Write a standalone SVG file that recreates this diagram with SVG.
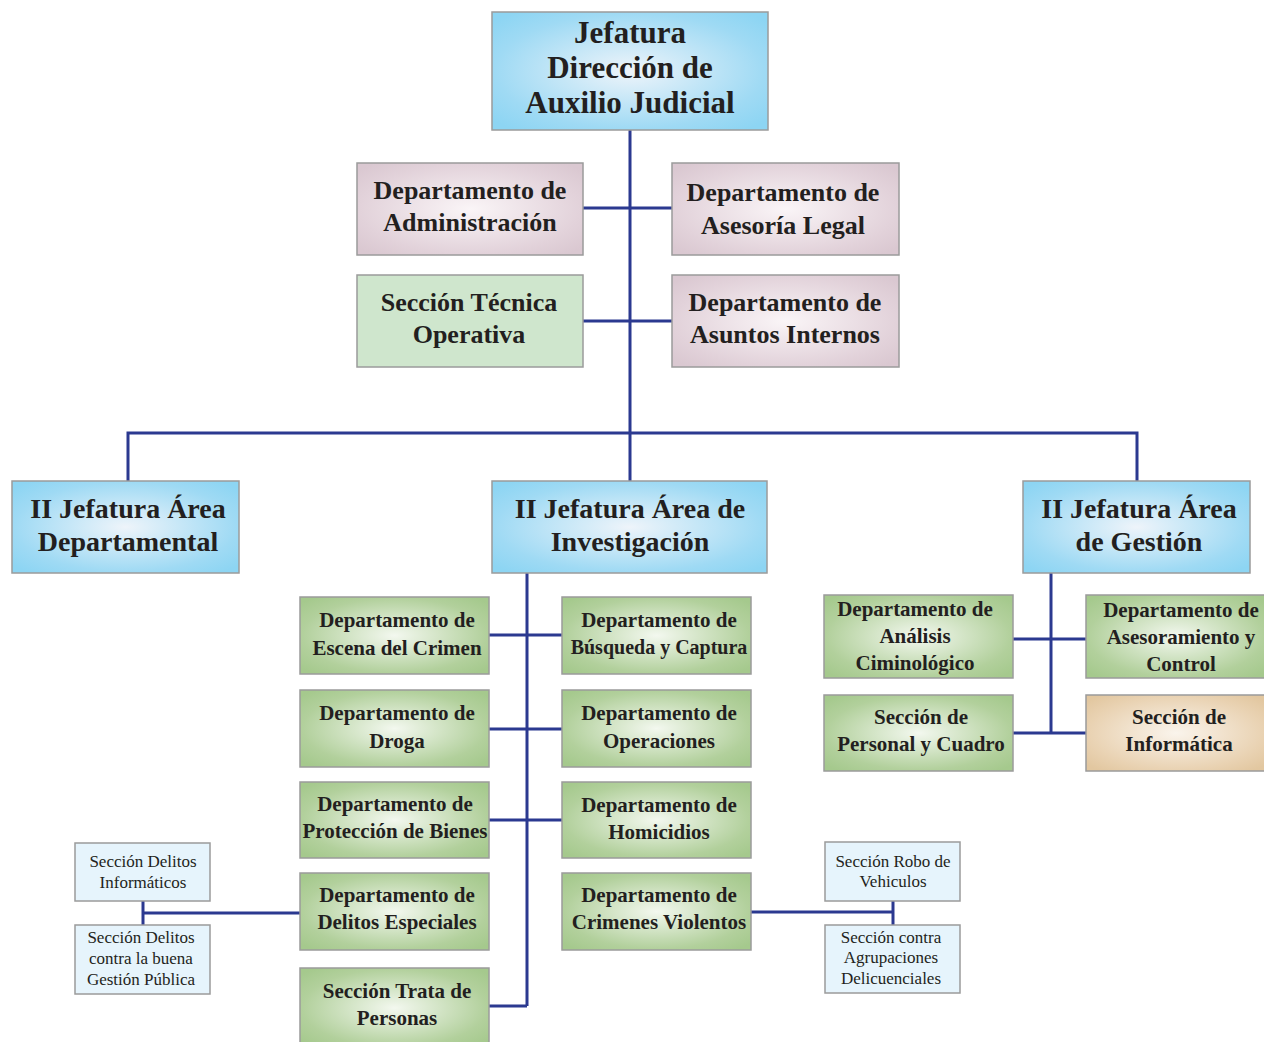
<svg xmlns="http://www.w3.org/2000/svg" width="1264" height="1042" viewBox="0 0 1264 1042">
<defs>
<radialGradient id="gBlue" cx="50%" cy="50%" r="65%"><stop offset="0" stop-color="#eef4fa"/><stop offset="0.75" stop-color="#9fdaf4"/><stop offset="1" stop-color="#8dd5f3"/></radialGradient>
<radialGradient id="gMauve" cx="50%" cy="50%" r="65%"><stop offset="0" stop-color="#faf5f7"/><stop offset="0.75" stop-color="#e2d2da"/><stop offset="1" stop-color="#dac8d1"/></radialGradient>
<radialGradient id="gGreen" cx="50%" cy="50%" r="65%"><stop offset="0" stop-color="#f3f8ef"/><stop offset="0.75" stop-color="#b2d09c"/><stop offset="1" stop-color="#a5c98d"/></radialGradient>
<radialGradient id="gTan" cx="50%" cy="50%" r="65%"><stop offset="0" stop-color="#faf4ec"/><stop offset="0.75" stop-color="#e9d2b2"/><stop offset="1" stop-color="#e2c7a0"/></radialGradient>
<style>
.box{stroke:#9b9b9b;stroke-width:1.5}
.blue{fill:url(#gBlue)}
.mauve{fill:url(#gMauve)}
.green{fill:url(#gGreen)}
.lgreen{fill:#cfe6cd}
.tan{fill:url(#gTan)}
.lblue{fill:#e6f4fc}
text{font-family:"Liberation Serif","DejaVu Serif",serif;fill:#231f20;text-anchor:middle}
.t1{font-size:31px;font-weight:bold}
.t2{font-size:28px;font-weight:bold}
.t3{font-size:26px;font-weight:bold}
.t4{font-size:21px;font-weight:bold}
.t4s{font-size:20px;font-weight:bold}
.t5{font-size:17px}
.conn line,.conn polyline{stroke:#2b3990;stroke-width:3;fill:none}
</style>
</defs>
<g class="conn" id="connectors">
<line x1="630" y1="130" x2="630" y2="481"/>
<line x1="583" y1="208" x2="672" y2="208"/>
<line x1="583" y1="321" x2="672" y2="321"/>
<polyline points="128,481 128,433 1137,433 1137,481"/>
<line x1="527" y1="573" x2="527" y2="1006"/>
<line x1="489" y1="635" x2="562" y2="635"/>
<line x1="489" y1="729" x2="562" y2="729"/>
<line x1="489" y1="820" x2="562" y2="820"/>
<line x1="489" y1="1006" x2="527" y2="1006"/>
<line x1="143" y1="913" x2="300" y2="913"/>
<line x1="143" y1="901" x2="143" y2="925"/>
<line x1="751" y1="912" x2="893" y2="912"/>
<line x1="893" y1="901" x2="893" y2="925"/>
<line x1="1051" y1="573" x2="1051" y2="733"/>
<line x1="1013" y1="639" x2="1086" y2="639"/>
<line x1="1013" y1="733" x2="1086" y2="733"/>
</g>
<g id="jefatura"><rect class="box blue" x="492" y="12" width="276" height="118"/><text class="t1" x="630" y="43">Jefatura</text><text class="t1" x="630" y="78">Dirección de</text><text class="t1" x="630" y="113">Auxilio Judicial</text></g>
<g id="administracion"><rect class="box mauve" x="357" y="163" width="226" height="92"/><text class="t3" x="470" y="199">Departamento de</text><text class="t3" x="470" y="231">Administración</text></g>
<g id="asesoria"><rect class="box mauve" x="672" y="163" width="227" height="92"/><text class="t3" x="783" y="201">Departamento de</text><text class="t3" x="783" y="234">Asesoría Legal</text></g>
<g id="tecnica"><rect class="box lgreen" x="357" y="275" width="226" height="92"/><text class="t3" x="469" y="311">Sección Técnica</text><text class="t3" x="469" y="343">Operativa</text></g>
<g id="internos"><rect class="box mauve" x="672" y="275" width="227" height="92"/><text class="t3" x="785" y="311">Departamento de</text><text class="t3" x="785" y="343">Asuntos Internos</text></g>
<g id="departamental"><rect class="box blue" x="12" y="481" width="227" height="92"/><text class="t2" x="128" y="518">II Jefatura Área</text><text class="t2" x="128" y="551">Departamental</text></g>
<g id="investigacion"><rect class="box blue" x="492" y="481" width="275" height="92"/><text class="t2" x="630" y="518">II Jefatura Área de</text><text class="t2" x="630" y="551">Investigación</text></g>
<g id="gestion"><rect class="box blue" x="1023" y="481" width="227" height="92"/><text class="t2" x="1139" y="518">II Jefatura Área</text><text class="t2" x="1139" y="551">de Gestión</text></g>
<g id="escena"><rect class="box green" x="300" y="597" width="189" height="77"/><text class="t4" x="397" y="627">Departamento de</text><text class="t4" x="397" y="655">Escena del Crimen</text></g>
<g id="busqueda"><rect class="box green" x="562" y="597" width="189" height="77"/><text class="t4" x="659" y="627">Departamento de</text><text class="t4s" x="659" y="654">Búsqueda y Captura</text></g>
<g id="droga"><rect class="box green" x="300" y="690" width="189" height="77"/><text class="t4" x="397" y="720">Departamento de</text><text class="t4" x="397" y="748">Droga</text></g>
<g id="operaciones"><rect class="box green" x="562" y="690" width="189" height="77"/><text class="t4" x="659" y="720">Departamento de</text><text class="t4" x="659" y="748">Operaciones</text></g>
<g id="proteccion"><rect class="box green" x="300" y="782" width="189" height="76"/><text class="t4" x="395" y="811">Departamento de</text><text class="t4" x="395" y="838">Protección de Bienes</text></g>
<g id="homicidios"><rect class="box green" x="562" y="782" width="189" height="76"/><text class="t4" x="659" y="812">Departamento de</text><text class="t4" x="659" y="839">Homicidios</text></g>
<g id="delitos-especiales"><rect class="box green" x="300" y="873" width="189" height="77"/><text class="t4" x="397" y="902">Departamento de</text><text class="t4" x="397" y="929">Delitos Especiales</text></g>
<g id="crimenes"><rect class="box green" x="562" y="873" width="189" height="77"/><text class="t4" x="659" y="902">Departamento de</text><text class="t4" x="659" y="929">Crimenes Violentos</text></g>
<g id="trata"><rect class="box green" x="300" y="968" width="189" height="80"/><text class="t4" x="397" y="998">Sección Trata de</text><text class="t4" x="397" y="1025">Personas</text></g>
<g id="informaticos"><rect class="box lblue" x="75" y="843" width="135" height="58"/><text class="t5" x="143" y="867">Sección Delitos</text><text class="t5" x="143" y="888">Informáticos</text></g>
<g id="gestion-publica"><rect class="box lblue" x="75" y="925" width="135" height="69"/><text class="t5" x="141" y="943">Sección Delitos</text><text class="t5" x="141" y="964">contra la buena</text><text class="t5" x="141" y="985">Gestión Pública</text></g>
<g id="robo"><rect class="box lblue" x="825" y="842" width="135" height="59"/><text class="t5" x="893" y="867">Sección Robo de</text><text class="t5" x="893" y="887">Vehiculos</text></g>
<g id="agrupaciones"><rect class="box lblue" x="825" y="925" width="135" height="68"/><text class="t5" x="891" y="943">Sección contra</text><text class="t5" x="891" y="963">Agrupaciones</text><text class="t5" x="891" y="984">Delicuenciales</text></g>
<g id="analisis"><rect class="box green" x="824" y="595" width="189" height="83"/><text class="t4" x="915" y="616">Departamento de</text><text class="t4" x="915" y="643">Análisis</text><text class="t4" x="915" y="670">Ciminológico</text></g>
<g id="asesoramiento"><rect class="box green" x="1086" y="595" width="180" height="83"/><text class="t4" x="1181" y="617">Departamento de</text><text class="t4" x="1181" y="644">Asesoramiento y</text><text class="t4" x="1181" y="671">Control</text></g>
<g id="personal"><rect class="box green" x="824" y="695" width="189" height="76"/><text class="t4" x="921" y="724">Sección de</text><text class="t4" x="921" y="751">Personal y Cuadro</text></g>
<g id="informatica"><rect class="box tan" x="1086" y="695" width="180" height="76"/><text class="t4" x="1179" y="724">Sección de</text><text class="t4" x="1179" y="751">Informática</text></g>
</svg>
